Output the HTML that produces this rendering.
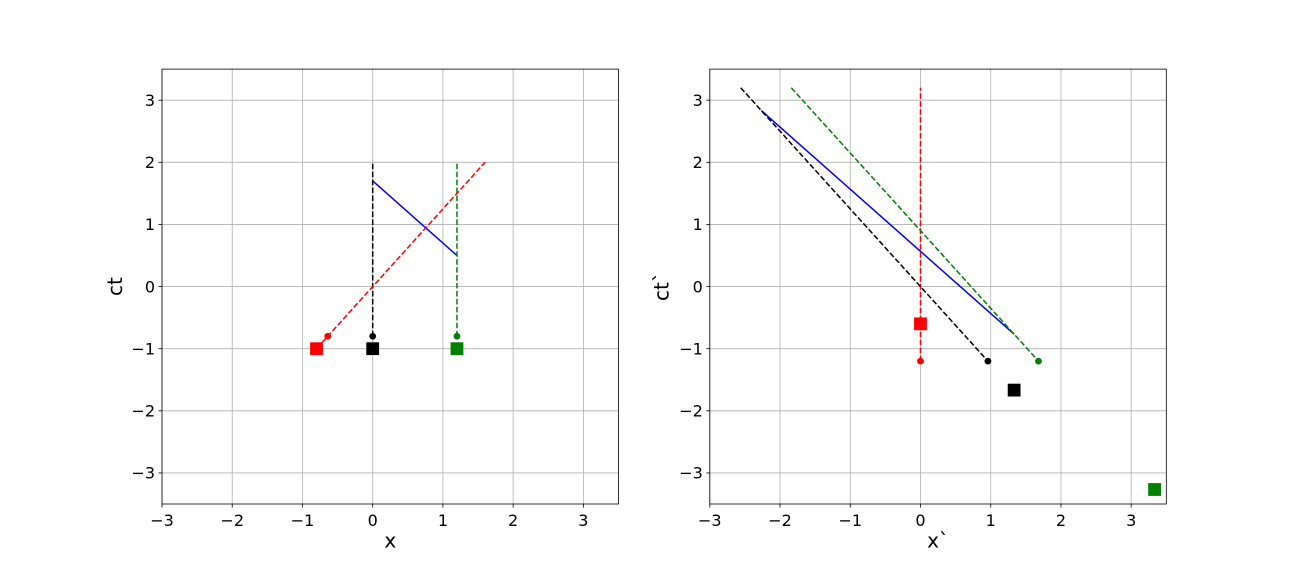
<!DOCTYPE html>
<html>
<head>
<meta charset="utf-8">
<style>
html,body{margin:0;padding:0;background:#fff;}
svg{display:block;}
text{font-family:"DejaVu Sans","Liberation Sans",sans-serif;fill:#000;}
.tk{font-size:16px;}
.lb{font-size:20px;}
.grid line{stroke:#b0b0b0;stroke-width:0.8;}
.ticks line{stroke:#000;stroke-width:0.8;}
</style>
</head>
<body>
<svg width="1296" height="576" viewBox="0 0 1296 576" xmlns="http://www.w3.org/2000/svg">
<rect width="1296" height="576" fill="#fff"/>

<!-- ================= LEFT AXES ================= -->
<g class="grid">
  <line x1="162" y1="69.12" x2="162" y2="504"/>
  <line x1="232.23" y1="69.12" x2="232.23" y2="504"/>
  <line x1="302.46" y1="69.12" x2="302.46" y2="504"/>
  <line x1="372.69" y1="69.12" x2="372.69" y2="504"/>
  <line x1="442.92" y1="69.12" x2="442.92" y2="504"/>
  <line x1="513.15" y1="69.12" x2="513.15" y2="504"/>
  <line x1="583.38" y1="69.12" x2="583.38" y2="504"/>
  <line x1="162" y1="100.19" x2="618.5" y2="100.19"/>
  <line x1="162" y1="162.31" x2="618.5" y2="162.31"/>
  <line x1="162" y1="224.44" x2="618.5" y2="224.44"/>
  <line x1="162" y1="286.56" x2="618.5" y2="286.56"/>
  <line x1="162" y1="348.69" x2="618.5" y2="348.69"/>
  <line x1="162" y1="410.81" x2="618.5" y2="410.81"/>
  <line x1="162" y1="472.94" x2="618.5" y2="472.94"/>
</g>

<!-- data left -->
<polyline points="372.69,180.94 456.97,255.5" fill="none" stroke="#0000ff" stroke-width="1.5"/>
<line x1="372.69" y1="336.26" x2="372.69" y2="162.31" stroke="#000" stroke-width="1.5" stroke-dasharray="5.55,2.4"/>
<line x1="456.97" y1="336.26" x2="456.97" y2="162.31" stroke="#008000" stroke-width="1.5" stroke-dasharray="5.55,2.4"/>
<line x1="316.51" y1="348.69" x2="485.06" y2="162.31" stroke="#ff0000" stroke-width="1.5" stroke-dasharray="5.55,2.4"/>
<circle cx="327.74" cy="336.26" r="3.4" fill="#ff0000"/>
<circle cx="372.69" cy="336.26" r="3.4" fill="#000"/>
<circle cx="456.97" cy="336.26" r="3.4" fill="#008000"/>
<rect x="310.11" y="342.29" width="12.8" height="12.8" fill="#ff0000"/>
<rect x="366.29" y="342.29" width="12.8" height="12.8" fill="#000"/>
<rect x="450.57" y="342.29" width="12.8" height="12.8" fill="#008000"/>

<rect x="162" y="69.12" width="456.5" height="434.88" fill="none" stroke="#000" stroke-width="0.8"/>

<g class="ticks">
  <line x1="162" y1="504" x2="162" y2="507.5"/>
  <line x1="232.23" y1="504" x2="232.23" y2="507.5"/>
  <line x1="302.46" y1="504" x2="302.46" y2="507.5"/>
  <line x1="372.69" y1="504" x2="372.69" y2="507.5"/>
  <line x1="442.92" y1="504" x2="442.92" y2="507.5"/>
  <line x1="513.15" y1="504" x2="513.15" y2="507.5"/>
  <line x1="583.38" y1="504" x2="583.38" y2="507.5"/>
  <line x1="158.5" y1="100.19" x2="162" y2="100.19"/>
  <line x1="158.5" y1="162.31" x2="162" y2="162.31"/>
  <line x1="158.5" y1="224.44" x2="162" y2="224.44"/>
  <line x1="158.5" y1="286.56" x2="162" y2="286.56"/>
  <line x1="158.5" y1="348.69" x2="162" y2="348.69"/>
  <line x1="158.5" y1="410.81" x2="162" y2="410.81"/>
  <line x1="158.5" y1="472.94" x2="162" y2="472.94"/>
</g>
<g class="tk" text-anchor="middle">
  <text x="162" y="526">−3</text>
  <text x="232.23" y="526">−2</text>
  <text x="302.46" y="526">−1</text>
  <text x="372.69" y="526">0</text>
  <text x="442.92" y="526">1</text>
  <text x="513.15" y="526">2</text>
  <text x="583.38" y="526">3</text>
</g>
<g class="tk" text-anchor="end">
  <text x="155" y="106">3</text>
  <text x="155" y="168.1">2</text>
  <text x="155" y="230.2">1</text>
  <text x="155" y="292.4">0</text>
  <text x="155" y="354.5">−1</text>
  <text x="155" y="416.6">−2</text>
  <text x="155" y="478.7">−3</text>
</g>
<text class="lb" x="390.25" y="547.5" text-anchor="middle">x</text>
<text class="lb" x="0" y="0" text-anchor="middle" transform="translate(122,286.56) rotate(-90)">ct</text>

<!-- ================= RIGHT AXES ================= -->
<g class="grid">
  <line x1="709.8" y1="69.12" x2="709.8" y2="504"/>
  <line x1="780.03" y1="69.12" x2="780.03" y2="504"/>
  <line x1="850.26" y1="69.12" x2="850.26" y2="504"/>
  <line x1="920.49" y1="69.12" x2="920.49" y2="504"/>
  <line x1="990.72" y1="69.12" x2="990.72" y2="504"/>
  <line x1="1060.95" y1="69.12" x2="1060.95" y2="504"/>
  <line x1="1131.18" y1="69.12" x2="1131.18" y2="504"/>
  <line x1="709.8" y1="100.19" x2="1166.3" y2="100.19"/>
  <line x1="709.8" y1="162.31" x2="1166.3" y2="162.31"/>
  <line x1="709.8" y1="224.44" x2="1166.3" y2="224.44"/>
  <line x1="709.8" y1="286.56" x2="1166.3" y2="286.56"/>
  <line x1="709.8" y1="348.69" x2="1166.3" y2="348.69"/>
  <line x1="709.8" y1="410.81" x2="1166.3" y2="410.81"/>
  <line x1="709.8" y1="472.94" x2="1166.3" y2="472.94"/>
</g>

<!-- data right -->
<line x1="761.3" y1="110.53" x2="1014.13" y2="334.19" stroke="#0000ff" stroke-width="1.5"/>
<line x1="920.49" y1="361.11" x2="920.49" y2="87.76" stroke="#ff0000" stroke-width="1.5" stroke-dasharray="5.55,2.4"/>
<line x1="740.7" y1="87.76" x2="987.91" y2="361.11" stroke="#000" stroke-width="1.5" stroke-dasharray="5.55,2.4"/>
<line x1="791.27" y1="87.76" x2="1038.48" y2="361.11" stroke="#008000" stroke-width="1.5" stroke-dasharray="5.55,2.4"/>
<circle cx="920.49" cy="361.11" r="3.4" fill="#ff0000"/>
<circle cx="987.91" cy="361.11" r="3.4" fill="#000"/>
<circle cx="1038.48" cy="361.11" r="3.4" fill="#008000"/>
<rect x="914.09" y="317.43" width="12.8" height="12.8" fill="#ff0000"/>
<rect x="1007.73" y="383.7" width="12.8" height="12.8" fill="#000"/>
<rect x="1148.19" y="483.1" width="12.8" height="12.8" fill="#008000"/>

<rect x="709.8" y="69.12" width="456.5" height="434.88" fill="none" stroke="#000" stroke-width="0.8"/>

<g class="ticks">
  <line x1="709.8" y1="504" x2="709.8" y2="507.5"/>
  <line x1="780.03" y1="504" x2="780.03" y2="507.5"/>
  <line x1="850.26" y1="504" x2="850.26" y2="507.5"/>
  <line x1="920.49" y1="504" x2="920.49" y2="507.5"/>
  <line x1="990.72" y1="504" x2="990.72" y2="507.5"/>
  <line x1="1060.95" y1="504" x2="1060.95" y2="507.5"/>
  <line x1="1131.18" y1="504" x2="1131.18" y2="507.5"/>
  <line x1="706.3" y1="100.19" x2="709.8" y2="100.19"/>
  <line x1="706.3" y1="162.31" x2="709.8" y2="162.31"/>
  <line x1="706.3" y1="224.44" x2="709.8" y2="224.44"/>
  <line x1="706.3" y1="286.56" x2="709.8" y2="286.56"/>
  <line x1="706.3" y1="348.69" x2="709.8" y2="348.69"/>
  <line x1="706.3" y1="410.81" x2="709.8" y2="410.81"/>
  <line x1="706.3" y1="472.94" x2="709.8" y2="472.94"/>
</g>
<g class="tk" text-anchor="middle">
  <text x="709.8" y="526">−3</text>
  <text x="780.03" y="526">−2</text>
  <text x="850.26" y="526">−1</text>
  <text x="920.49" y="526">0</text>
  <text x="990.72" y="526">1</text>
  <text x="1060.95" y="526">2</text>
  <text x="1131.18" y="526">3</text>
</g>
<g class="tk" text-anchor="end">
  <text x="702.8" y="106">3</text>
  <text x="702.8" y="168.1">2</text>
  <text x="702.8" y="230.2">1</text>
  <text x="702.8" y="292.4">0</text>
  <text x="702.8" y="354.5">−1</text>
  <text x="702.8" y="416.6">−2</text>
  <text x="702.8" y="478.7">−3</text>
</g>
<text class="lb" x="938" y="547.5" text-anchor="middle">x`</text>
<text class="lb" x="0" y="0" text-anchor="middle" transform="translate(668.5,286.56) rotate(-90)">ct`</text>
</svg>
</body>
</html>
